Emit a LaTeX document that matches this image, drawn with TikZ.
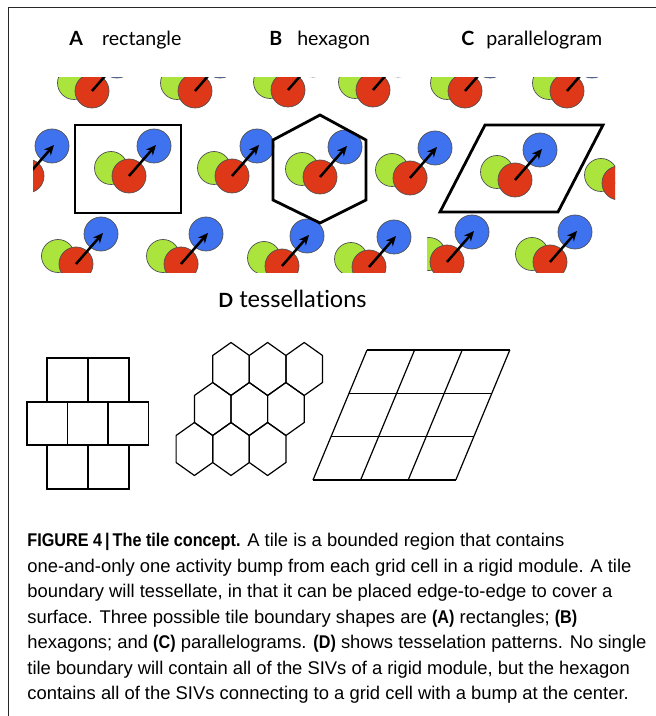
\documentclass[tikz,border=0pt]{standalone}
\usepackage{fontspec}
\setmainfont{Liberation Sans}[BoldFeatures={FakeStretch=0.88}]
\newfontfamily\titlefont{Lato}[Ligatures=NoCommon]
\definecolor{bumpgreen}{RGB}{170,228,60}
\definecolor{bumpred}{RGB}{222,56,24}
\definecolor{bumpblue}{RGB}{62,114,238}
\definecolor{bumpedge}{RGB}{80,80,80}
\definecolor{framegray}{RGB}{40,40,40}
\usetikzlibrary{arrows.meta}
\tikzset{
  gridbump/.pic={
    \filldraw[fill=bumpgreen, draw=bumpedge, line width=0.35pt] (-18,-8) circle[radius=16.5];
    \filldraw[fill=bumpred, draw=bumpedge, line width=0.35pt] (0,0) circle[radius=17];
    \filldraw[fill=bumpblue, draw=bumpedge, line width=0.35pt] (25,-30) circle[radius=17];
    \draw[-{Stealth[length=5pt, width=4.5pt]}, line width=1.25pt] (0,0) -- (27,-31);
  },
  tileline/.style={line width=1.4pt, line join=miter},
  tessline/.style={line width=0.6pt, line join=miter},
  paneltitle/.style={font=\titlefont\fontsize{9.8pt}{12pt}\selectfont, inner sep=0pt, anchor=base west},
}

\begin{document}
\begin{tikzpicture}[x=0.5pt, y=-0.5pt]
  \useasboundingbox (0,0) rectangle (656,716);
  \draw[framegray, line width=0.5pt] (8,716) -- (8,8) -- (656,8);

  %--- Panel titles ---
  \node[paneltitle] (titleA) at (69,46) {\textbf{A}\hspace{9.5pt}rectangle};
  \node[paneltitle] (titleB) at (269,46) {\textbf{B}\hspace{7.5pt}hexagon};
  \node[paneltitle] (titleC) at (461,46) {\textbf{C}\hspace{6pt}parallelogram};

  %--- A: rectangle ---
  \begin{scope}
    \clip (33,78) rectangle (198,273);
    \foreach \p in {(92,91),(195,91),(27,176),(129,176),(232,176),(76,264),(181,264)}
      \pic at \p {gridbump};
  \end{scope}
  \draw[tileline] (75,125) rectangle (181,213);

  %--- B: hexagon ---
  \begin{scope}
    \clip (198,78) rectangle (427,273);
    \foreach \p in {(195,91),(288,90),(373,90),(232,176),(320,177),(410,178),(181,264),(282,266),(369,267)}
      \pic at \p {gridbump};
  \end{scope}
  \draw[tileline] (320,115) -- (366,140) -- (366,200) -- (320,223) -- (273,200) -- (273,140) -- cycle;

  %--- C: parallelogram ---
  \begin{scope}
    \clip (427,78) rectangle (615,273);
    \foreach \p in {(465,91),(567,91),(410,178),(515,180),(619,183),(447,262),(550,262)}
      \pic at \p {gridbump};
  \end{scope}
  \draw[tileline] (485,125) -- (603,125) -- (558,212) -- (440,212) -- cycle;

  %--- D: tessellations ---
  \node[paneltitle] (titleD) at (218,307) {\textbf{D}\hspace{3pt}{\fontsize{11.8pt}{14pt}\selectfont tessellations}};

  % rectangles
  \foreach \x in {47,88} {
    \draw[tessline] (\x,358) rectangle ++(41,44);
    \draw[tessline] (\x,445) rectangle ++(41,44);
  }
  \foreach \x in {27,67.5,108} \draw[tessline] (\x,402) rectangle ++(40.5,43);

  % hexagons
  \foreach \cy/\cx in {369/231,369/267.6,369/304.2,409/212.7,409/249.3,409/285.9,449/194.4,449/231,449/267.6}
    \draw[tessline] (\cx,\cy-26.5) -- ++(18.3,13) -- ++(0,27) -- ++(-18.3,13) -- ++(-18.3,-13) -- ++(0,-27) -- cycle;

  % parallelograms
  \foreach \i in {0,1,2,3} {
    \draw[tessline] (367-18*\i,350+43.3*\i) -- ++(143,0);
    \draw[tessline] (367+47.6*\i,350) -- ++(-54,130);
  }

  %--- Caption ---
  \node[anchor=north west, align=left, inner sep=0pt, font=\fontsize{9.2pt}{12.75pt}\selectfont] (caption) at (27,533) {%
    \textbf{FIGURE 4\,|\,The tile concept.} A tile is a bounded region that contains\\
    one-and-only one activity bump from each grid cell in a rigid module. A tile\\
    boundary will tessellate, in that it can be placed edge-to-edge to cover a\\
    surface. Three possible tile boundary shapes are \textbf{(A)} rectangles; \textbf{(B)}\\
    hexagons; and \textbf{(C)} parallelograms. \textbf{(D)} shows tesselation patterns. No single\\
    tile boundary will contain all of the SIVs of a rigid module, but the hexagon\\
    contains all of the SIVs connecting to a grid cell with a bump at the center.};
\end{tikzpicture}
\end{document}
